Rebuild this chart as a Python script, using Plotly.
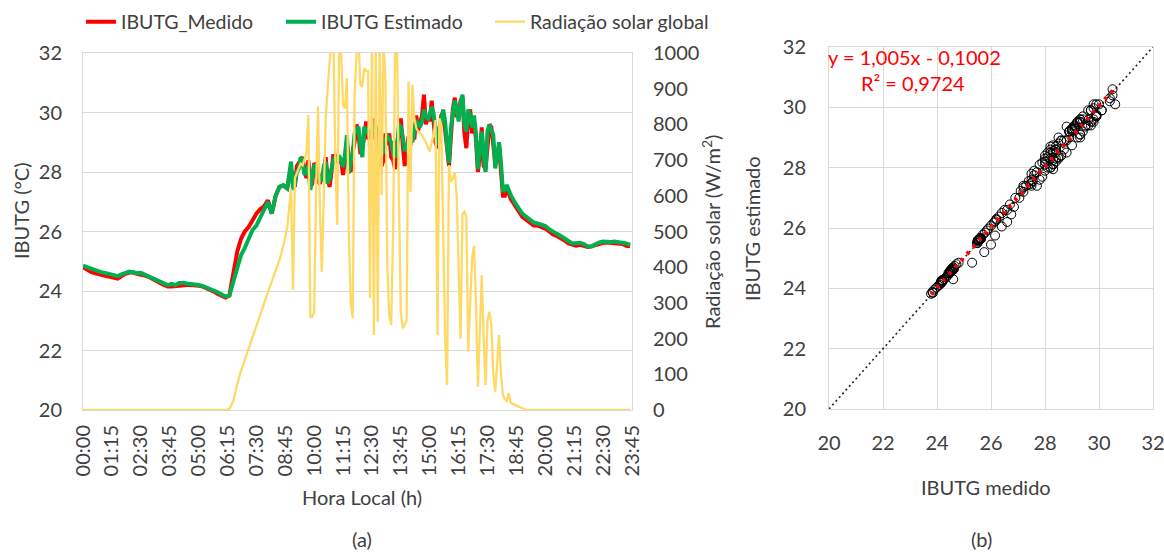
import plotly.graph_objects as go

# ---------------- data ----------------
# time of day in minutes (10-min steps at night, 5-min steps 09:00-18:25)
times = list(range(0, 540, 10)) + list(range(540, 1110, 5)) + list(range(1110, 1430, 10))

tick_minutes = [0, 75, 150, 225, 300, 375, 450, 525, 600, 675, 750, 825, 900, 975,
                1050, 1125, 1200, 1275, 1350, 1425]
tick_labels = ["00:00", "01:15", "02:30", "03:45", "05:00", "06:15", "07:30", "08:45",
               "10:00", "11:15", "12:30", "13:45", "15:00", "16:15", "17:30", "18:45",
               "20:00", "21:15", "22:30", "23:45"]

ibutg_medido = [
    # 00:00 - 08:50 (10 min)
    24.80, 24.72, 24.65, 24.60, 24.56, 24.52, 24.50, 24.48, 24.45, 24.42,
    24.50, 24.58, 24.62, 24.62, 24.58, 24.56, 24.52, 24.48, 24.42, 24.35,
    24.27, 24.20, 24.15, 24.15, 24.17, 24.18, 24.20, 24.20, 24.20, 24.20,
    24.18, 24.15, 24.10, 24.05, 23.98, 23.90, 23.83, 23.78, 23.85, 24.60,
    25.30, 25.75, 26.00, 26.15, 26.40, 26.60, 26.75, 26.85, 27.05, 26.60,
    27.20, 27.50, 27.55, 27.45,
    # 09:00 - 18:25 (5 min)
    28.1, 27.7, 27.5, 28.2, 28.3, 28.4, 28.5, 28.0, 27.8, 28.4, 27.5, 27.6,
    28.3, 28.2, 27.7, 27.6, 27.9, 28.0, 28.5, 27.8, 27.5, 28.0, 28.6, 28.3,
    28.6, 28.3, 28.4, 27.9, 28.4, 29.0, 28.3, 28.0, 28.7, 29.0, 29.6, 29.3,
    28.6, 28.8, 29.2, 29.7, 29.1, 29.4, 29.1, 29.8, 29.3, 29.0, 28.3, 28.2,
    28.4, 29.3, 28.9, 29.3, 28.5, 28.4, 28.1, 29.0, 29.3, 29.8, 28.9, 28.2,
    28.6, 29.2, 28.9, 29.3, 29.1, 29.9, 29.4, 29.7, 29.9, 30.6, 29.6, 29.9,
    29.7, 30.4, 29.8, 29.0, 28.8, 29.2, 29.9, 30.0, 29.4, 28.7, 28.2, 29.2,
    30.1, 30.5, 29.9, 29.9, 30.4, 30.5, 29.3, 28.8, 29.8, 30.1, 29.3, 29.7,
    29.1, 28.0, 28.5, 29.5, 28.2, 28.1, 29.1, 29.6, 29.5, 29.0, 28.3, 28.4,
    28.9, 28.0, 27.2, 27.2, 27.4, 27.3,
    # 18:30 - 23:40 (10 min)
    27.1, 26.9, 26.7, 26.5, 26.4, 26.3, 26.2, 26.2, 26.15, 26.1,
    26.0, 25.9, 25.85, 25.78, 25.7, 25.6, 25.55, 25.52, 25.55, 25.5,
    25.48, 25.5, 25.55, 25.6, 25.62, 25.63, 25.62, 25.6, 25.62, 25.58,
    25.52, 25.5,
]

ibutg_estimado = [
    24.85, 24.80, 24.74, 24.70, 24.66, 24.62, 24.60, 24.56, 24.52, 24.50,
    24.56, 24.61, 24.65, 24.63, 24.60, 24.61, 24.55, 24.51, 24.45, 24.38,
    24.31, 24.24, 24.20, 24.24, 24.20, 24.27, 24.28, 24.25, 24.24, 24.23,
    24.20, 24.17, 24.12, 24.09, 24.02, 23.96, 23.88, 23.82, 23.85, 24.30,
    24.85, 25.20, 25.45, 25.75, 26.05, 26.20, 26.45, 26.70, 27.00, 26.60,
    27.20, 27.50, 27.55, 27.45,
    28.35, 27.4, 27.6, 28.0, 28.1, 28.5, 28.3, 27.9, 28.1, 28.2, 27.4, 27.9,
    28.25, 28.0, 27.85, 27.75, 27.7, 28.2, 28.35, 27.6, 27.8, 28.2, 28.4, 28.5,
    28.4, 28.55, 28.3, 28.17, 28.6, 29.24, 27.95, 28.4, 28.6, 29.3, 29.4, 29.52,
    28.9, 28.5, 29.52, 29.4, 29.3, 29.2, 29.4, 29.6, 29.52, 29.2, 28.74, 28.6,
    28.7, 29.1, 29.2, 29.1, 29.0, 28.6, 28.5, 28.74, 29.6, 29.52, 29.2, 28.7,
    28.9, 29.0, 29.2, 29.0, 29.36, 29.75, 29.6, 29.52, 29.7, 30.1, 29.9, 29.75,
    29.9, 30.2, 29.97, 29.3, 28.9, 29.5, 29.7, 30.1, 29.7, 28.9, 28.3, 29.5,
    29.9, 30.4, 30.1, 29.7, 30.3, 30.6, 29.6, 29.36, 30.1, 29.9, 29.5, 29.9,
    29.3, 28.1, 28.8, 29.36, 28.5, 28.0, 29.4, 29.58, 29.4, 29.25, 28.12, 28.6,
    29.0, 28.3, 27.34, 27.4, 27.56, 27.4,
    27.23, 27.0, 26.78, 26.6, 26.5, 26.38, 26.3, 26.27, 26.22, 26.18,
    26.08, 25.98, 25.92, 25.85, 25.78, 25.68, 25.6, 25.6, 25.62, 25.58,
    25.5, 25.5, 25.58, 25.63, 25.66, 25.64, 25.65, 25.66, 25.65, 25.63,
    25.6, 25.55,
]

radiacao = [
    0, 0, 0, 0, 0, 0, 0, 0, 0, 0,
    0, 0, 0, 0, 0, 0, 0, 0, 0, 0,
    0, 0, 0, 0, 0, 0, 0, 0, 0, 0,
    0, 0, 0, 0, 0, 0, 0, 0, 3, 25,
    70, 110, 140, 175, 205, 235, 268, 300, 330, 360,
    390, 420, 460, 510,
    620, 336, 650, 665, 680, 690, 685, 700, 720, 826, 261, 262,
    275, 600, 850, 560, 387, 600, 817, 900, 976, 1040, 1040, 700,
    518, 1040, 1000, 854, 845, 930, 490, 300, 257, 880, 1000, 1040,
    910, 905, 957, 950, 950, 313, 1040, 210, 1040, 247, 1040, 602,
    1040, 920, 400, 266, 238, 500, 1000, 1040, 600, 275, 229, 240,
    250, 920, 611, 910, 817, 790, 780, 775, 770, 760, 750, 735,
    724, 750, 770, 812, 210, 817, 800, 500, 200, 70, 686, 640,
    650, 665, 600, 400, 200, 550, 555, 540, 163, 300, 425, 460,
    300, 65, 250, 378, 200, 70, 250, 275, 240, 100, 51, 150,
    210, 100, 42, 30, 25, 47,
    20, 15, 10, 5, 0, 0, 0, 0, 0, 0,
    0, 0, 0, 0, 0, 0, 0, 0, 0, 0,
    0, 0, 0, 0, 0, 0, 0, 0, 0, 0,
    0, 0,
]

# regression shown on panel (b)
trend_slope = 1.005
trend_intercept = -0.1002
trend_label = "y = 1,005x - 0,1002"
r2_label = "R² = 0,9724"
identity_line = [20, 32]

assert len(times) == len(ibutg_medido) == len(ibutg_estimado) == len(radiacao), (
    len(times), len(ibutg_medido), len(ibutg_estimado), len(radiacao))

# ---------------- figure ----------------
FONT = "Lato"
TXT = "#404040"
GRID = "#D9D9D9"
W, H = 1164, 554
FS = 20


def px_x(p):
    return p / W


def px_y(p):
    return 1 - p / H


fig = go.Figure()

fig.add_trace(go.Scatter(x=times, y=ibutg_medido, name="IBUTG_Medido", mode="lines",
                         line=dict(color="#FF0000", width=4), xaxis="x", yaxis="y",
                         legend="legend"))
fig.add_trace(go.Scatter(x=times, y=ibutg_estimado, name="IBUTG Estimado", mode="lines",
                         line=dict(color="#00B050", width=4), xaxis="x", yaxis="y",
                         legend="legend2"))
fig.add_trace(go.Scatter(x=times, y=radiacao, name="Radiação solar global", mode="lines",
                         line=dict(color="#FFD966", width=2.3), xaxis="x", yaxis="y2",
                         legend="legend3"))

# panel (b)
fig.add_trace(go.Scatter(x=identity_line, y=identity_line, mode="lines", showlegend=False,
                         line=dict(color="#222222", width=1.6, dash="2px,3px"),
                         xaxis="x2", yaxis="y3"))
fig.add_trace(go.Scatter(x=ibutg_medido, y=ibutg_estimado, mode="markers", showlegend=False,
                         marker=dict(symbol="circle-open", size=9, color="black",
                                     line=dict(width=1, color="black")),
                         xaxis="x2", yaxis="y3"))
tx = [min(ibutg_medido), max(ibutg_medido)]
ty = [trend_slope * v + trend_intercept for v in tx]
fig.add_trace(go.Scatter(x=tx, y=ty, mode="lines", showlegend=False,
                         line=dict(color="#FF0000", width=4, dash="3px,6px"),
                         xaxis="x2", yaxis="y3"))

axis_font = dict(family=FONT, size=FS, color=TXT)
legend_common = dict(orientation="h", y=px_y(22), xanchor="left", yanchor="middle",
                     font=dict(family=FONT, size=19.5, color=TXT),
                     bgcolor="rgba(0,0,0,0)", itemwidth=30)

fig.update_layout(
    width=W, height=H,
    margin=dict(l=0, r=0, t=0, b=0, autoexpand=False),
    paper_bgcolor="white", plot_bgcolor="white",
    font=dict(family=FONT, size=FS, color=TXT),
    showlegend=True,
    legend=dict(x=px_x(81), **legend_common),
    legend2=dict(x=px_x(281), **legend_common),
    legend3=dict(x=px_x(490), **legend_common),
    xaxis=dict(domain=[px_x(83), px_x(632)], range=[0, 1425], tickmode="array",
               tickvals=tick_minutes, ticktext=tick_labels, tickangle=-90,
               showgrid=False, zeroline=False, showline=True, mirror=True,
               linecolor=GRID, linewidth=1, ticks="", tickfont=axis_font,
               ticklabelstandoff=6, anchor="y", automargin=False),
    yaxis=dict(domain=[px_y(410), px_y(53)], range=[20, 32], dtick=2,
               showgrid=True, gridcolor=GRID, gridwidth=1, zeroline=False,
               showline=True, mirror=True, linecolor=GRID, ticks="",
               tickfont=axis_font, ticklabelstandoff=16, anchor="x", automargin=False),
    yaxis2=dict(overlaying="y", side="right", range=[0, 1000], dtick=100,
                showgrid=False, zeroline=False, showline=False, ticks="",
                tickfont=axis_font, ticklabelstandoff=20, anchor="x", automargin=False),
    xaxis2=dict(domain=[px_x(829), px_x(1153)], range=[20, 32], dtick=2,
                showgrid=True, gridcolor=GRID, zeroline=False, showline=True,
                mirror=True, linecolor=GRID, ticks="", tickfont=axis_font,
                ticklabelstandoff=16, anchor="y3", automargin=False,
                ticklabeloverflow="allow"),
    yaxis3=dict(domain=[px_y(409), px_y(47)], range=[20, 32], dtick=2,
                showgrid=True, gridcolor=GRID, zeroline=False, showline=True,
                mirror=True, linecolor=GRID, ticks="", tickfont=axis_font,
                ticklabelstandoff=18, anchor="x2", automargin=False),
)

ann_font = dict(family=FONT, size=FS, color=TXT)
red_font = dict(family=FONT, size=FS, color="#FF0000")
annotations = [
    dict(text="Hora Local (h)", x=px_x(362), y=px_y(497), font=ann_font),
    dict(text="IBUTG (°C)", x=px_x(21), y=px_y(211), font=ann_font, textangle=-90),
    dict(text="Radiação solar (W/m<sup>2</sup>)", x=px_x(711), y=px_y(232), font=ann_font,
         textangle=-90),
    dict(text="(a)", x=px_x(362), y=px_y(539), font=ann_font),
    dict(text="IBUTG medido", x=px_x(986), y=px_y(487), font=ann_font),
    dict(text="IBUTG estimado", x=px_x(752), y=px_y(229), font=ann_font, textangle=-90),
    dict(text="(b)", x=px_x(981), y=px_y(539), font=ann_font),
    dict(text=trend_label, x=px_x(826), y=px_y(57), xanchor="left", font=red_font),
    dict(text=r2_label, x=px_x(859), y=px_y(83), xanchor="left", font=red_font),
]
for a in annotations:
    a.setdefault("xanchor", "center")
    a.update(xref="paper", yref="paper", yanchor="middle", showarrow=False)
fig.update_layout(annotations=annotations)

fig.write_html("out.html", config={"displayModeBar": False},
               post_script="document.body.style.margin='0px';")
